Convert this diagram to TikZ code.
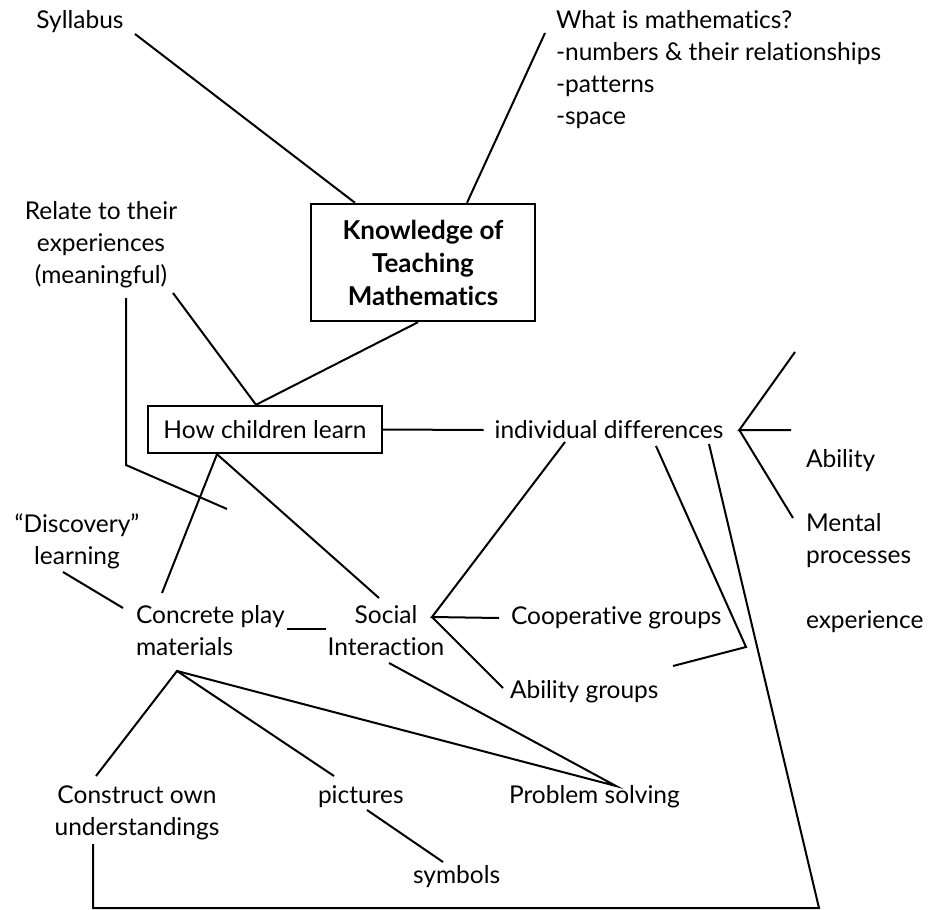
\documentclass[tikz,border=0pt]{standalone}
\usepackage{fontspec}
\setmainfont{Lato}[Ligatures=NoCommon]
\begin{document}
\begin{tikzpicture}[x=1pt,y=-1pt, line width=2pt,
 every node/.style={inner sep=0pt, font=\fontsize{24.5}{32}\selectfont},
 lbl/.style={align=center},
 lbll/.style={align=left, anchor=west},
 boxed/.style={draw, line width=2.4pt}]
\path[use as bounding box] (0,0) rectangle (940,910);
% nodes
\node (syl) at (80,22) {Syllabus};
\node[lbll] (what) at (555,70) {What is mathematics?\\-numbers \& their relationships\\-patterns\\-space};
\node[boxed, minimum width=224pt, minimum height=117pt, align=center, font=\bfseries\fontsize{26}{33}\selectfont] (know) at (423,262.5) {Knowledge of\\Teaching\\Mathematics};
\node[lbl] (rel) at (101,245) {Relate to their\\experiences\\(meaningful)};
\node[boxed, minimum width=234pt, minimum height=47pt] (how) at (265,429.5) {How children learn};
\node (indiv) at (609,430) {individual differences};
\node[anchor=west] (abil) at (805,461) {Ability};
\node[lbll] (mental) at (805,541) {Mental\\processes};
\node[anchor=west] (exper) at (805,622) {experience};
\node[lbl] (disc) at (77,541) {“Discovery”\\learning};
\node[lbll] (concrete) at (135,631) {Concrete play\\materials};
\node[lbl] (social) at (386,631) {Social\\Interaction};
\node[anchor=west] (coop) at (510,618) {Cooperative groups};
\node[anchor=west] (abg) at (509,692) {Ability groups};
\node[lbl] (constr) at (137,813) {Construct own\\understandings};
\node[anchor=west] (pict) at (317,797) {pictures};
\node[anchor=west] (symb) at (412,877) {symbols};
\node[anchor=west] (prob) at (508,797) {Problem solving};
% free ends
\coordinate (relend) at (227,509);
\coordinate (idbend) at (746,647);
\coordinate (idend) at (673,666);
\coordinate (idcorner) at (819,908);
\coordinate (fan1) at (795,352);
\coordinate (fan2) at (791,430);
% connectors
\draw ([shift={(55,12)}]syl.center) -- ([xshift=-68]know.north);
\draw ([shift={(-10,-37)}]what.west) -- ([xshift=44]know.north);
\draw ([xshift=-5]know.south) -- ([xshift=-9]how.north);
\draw ([shift={(72,48)}]rel.center) -- ([xshift=-9]how.north);
\draw ([shift={(25,53)}]rel.center) -- ++(0,167) -- (relend);
\draw (how.east) -- ([xshift=-10]indiv.west);
\draw ([xshift=-48]how.south) -- ([shift={(27,-38)}]concrete.west);
\draw ([xshift=-48]how.south) -- ([shift={(-7,-33)}]social.center);
\draw ([shift={(-14,31)}]disc.center) -- ([shift={(-12,-23)}]concrete.west);
\draw ([shift={(152,-2)}]concrete.west) -- ([shift={(-60,-2)}]social.center);
\draw ([shift={(-44,12)}]indiv.center) -- ([shift={(46,-14)}]social.center) -- ([xshift=-11]coop.west);
\draw ([shift={(46,-14)}]social.center) -- ([shift={(-6,-4)}]abg.west);
\draw ([shift={(47,16)}]indiv.center) -- (idbend) -- (idend);
\draw ([shift={(100,14)}]indiv.center) -- (idcorner) -| ([shift={(-44,31)}]constr.center);
\draw (fan1) -- ([xshift=15]indiv.east) -- (fan2);
\draw ([xshift=15]indiv.east) -- ([shift={(-12,-23)}]mental.west);
\draw ([shift={(-41,-37)}]constr.center) -- ([shift={(42,40)}]concrete.west) -- ([shift={(17,-21)}]pict.west);
\draw ([shift={(42,40)}]concrete.west) -- ([shift={(108,-11)}]prob.west) -- ([shift={(3,32)}]social.center);
\draw ([shift={(50,13)}]pict.west) -- ([shift={(31,-15)}]symb.west);
\end{tikzpicture}
\end{document}
